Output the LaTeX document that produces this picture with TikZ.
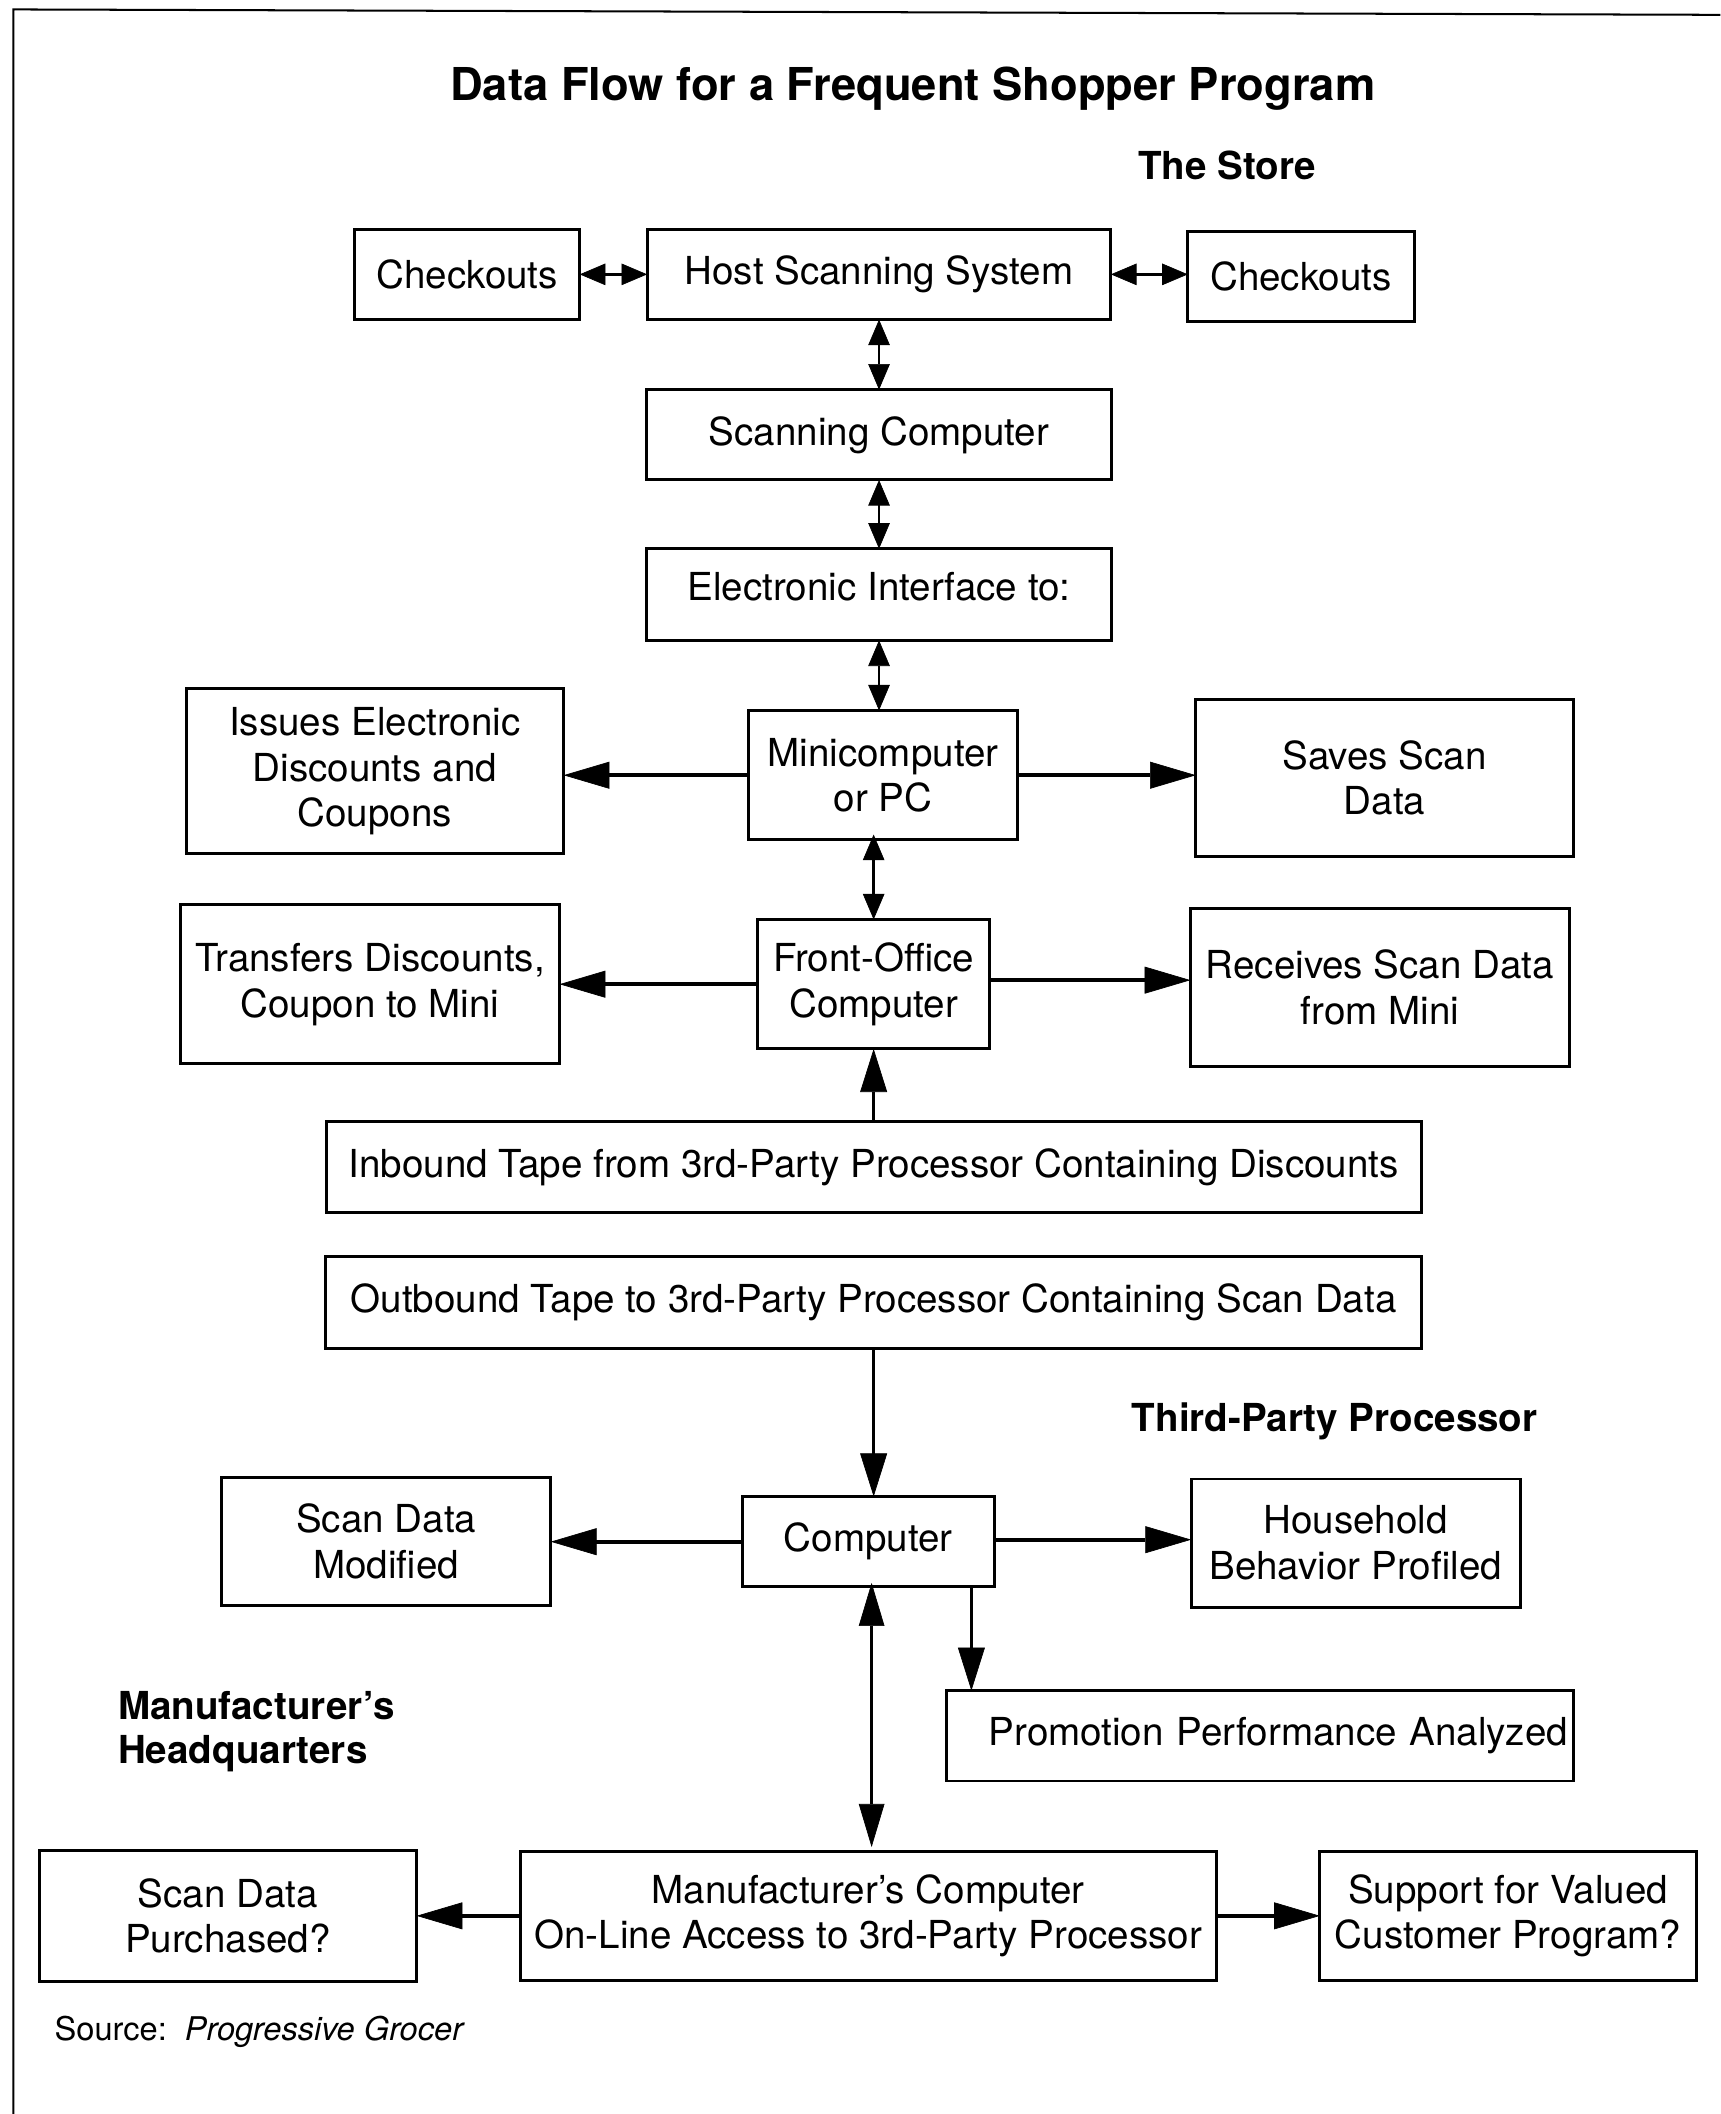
\documentclass[tikz,border=0pt]{standalone}
\usepackage{fontspec}
\setmainfont{TeX Gyre Heros}
\usepackage{tikz}
\usetikzlibrary{arrows.meta,positioning}
\newcommand{\boxfont}{\fontsize{28.6}{34}\selectfont}
\newcommand{\headfont}{\fontsize{28.6}{33}\selectfont\bfseries}
\newcommand{\titlefont}{\fontsize{33.6}{40}\selectfont\bfseries}

\begin{document}
\begin{tikzpicture}[x=1pt,y=-1pt]
  \tikzstyle{blk}=[rectangle, draw=black, line width=2.2pt, inner sep=2pt, outer sep=0pt, align=center, font=\boxfont]
  \tikzstyle{heavy}=[-{Triangle[length=34pt,width=20pt,line width=0.5pt]}, line width=3pt]
  \tikzstyle{slim}=[-{Triangle[length=32pt,width=20pt,line width=0.5pt]}, line width=1.8pt]
  \tikzstyle{dbl}=[{Triangle[length=19pt,width=16pt,line width=0.5pt]}-{Triangle[length=19pt,width=16pt,line width=0.5pt]}, line width=2pt]
  \tikzstyle{dblslim}=[{Triangle[length=32pt,width=19pt,line width=0.5pt]}-{Triangle[length=32pt,width=19pt,line width=0.5pt]}, line width=1.8pt]
  \tikzstyle{head}=[font=\headfont]
  \useasboundingbox (0,0) rectangle (1276,1568);
  \draw[line width=1.5pt] (10,1568) -- (10,7) -- (1276,11);
  % headings
  \node[font=\titlefont] (title) at (677,66) {Data Flow for a Frequent Shopper Program};
  \node[head] (store) at (910,123) {The Store};
  \node[head] (third) at (990,1054) {Third-Party Processor};
  \node[head, anchor=west, align=left] (hq) at (84,1284.5) {Manufacturer’s\\Headquarters};
  \node[font=\fontsize{24.2}{28}\selectfont, anchor=west] (src) at (37,1507) {Source:\hspace{0.55em}\textit{Progressive Grocer}};
  % the store
    \node[blk, minimum width=344, minimum height=67] (host) at (652,203.5) {Host Scanning System};
    \node[blk, minimum width=167, minimum height=67] (chkL) [left=50pt of host] {Checkouts};
    \node[blk, minimum width=168, minimum height=67, yshift=-1.5pt] (chkR) [right=57pt of host] {Checkouts};
    \node[blk, minimum width=345, minimum height=67] (scan) [below=52pt of host] {Scanning Computer};
    \node[blk, minimum width=345, minimum height=68, text depth=12pt] (iface) [below=51pt of scan] {Electronic Interface to:};
    \node[blk, minimum width=200, minimum height=96, xshift=3pt] (mini) [below=52pt of iface] {Minicomputer\\or PC};
    \node[blk, minimum width=280, minimum height=122, yshift=3pt] (issues) [left=137pt of mini] {Issues Electronic\\Discounts and\\Coupons};
    \node[blk, minimum width=280, minimum height=117, yshift=-2pt] (saves) [right=132pt of mini] {Saves Scan\\Data};
    \node[blk, minimum width=172, minimum height=96, xshift=-7pt] (front) [below=59pt of mini] {Front-Office\\Computer};
    \node[blk, minimum width=281, minimum height=118] (transfers) [left=147pt of front] {Transfers Discounts,\\Coupon to Mini};
    \node[blk, minimum width=281, minimum height=117, yshift=-2.5pt] (receives) [right=149pt of front] {Receives Scan Data\\from Mini};
    \node[blk, minimum width=812, minimum height=67] (inbound) [below=54pt of front] {Inbound Tape from 3rd-Party Processor Containing Discounts};
    \node[blk, minimum width=813, minimum height=68] (outbound) [below=33pt of inbound] {Outbound Tape to 3rd-Party Processor Containing Scan Data};
  % third-party processor
    \node[blk, minimum width=187, minimum height=67, xshift=-4pt] (comp) [below=110pt of outbound] {Computer};
    \node[blk, minimum width=244, minimum height=95] (modified) [left=142pt of comp] {Scan Data\\Modified};
    \node[blk, minimum width=244, minimum height=95, yshift=-1pt] (household) [right=146pt of comp] {Household\\Behavior Profiled};
    \node[blk, minimum width=465, minimum height=67, text width=457pt, inner xsep=4pt, align=right] (promo) at (934.5,1287.5) {Promotion Performance Analyzed};
  % manufacturer
    \node[blk, minimum width=516, minimum height=96, inner xsep=1pt] (mfr) [below=196pt of comp] {Manufacturer’s Computer\\On-Line Access to 3rd-Party Processor};
    \node[blk, minimum width=280, minimum height=97] (purchased) [left=77pt of mfr] {Scan Data\\Purchased?};
    \node[blk, minimum width=279, minimum height=96, inner xsep=1pt] (support) [right=77pt of mfr] {Support for Valued\\Customer Program?};
    \path (chkL.east) edge [dbl] (chkL.east -| host.west)
          (host.east) edge [dbl] (host.east -| chkR.west)
          (host.south) edge [dbl] (host.south |- scan.north)
          (scan.south) edge [dbl] (scan.south |- iface.north)
          (iface.south) edge [dbl] (iface.south |- mini.north)
          ([yshift=4pt]mini.south -| front.north) edge [dbl] (front.north)
          (mini.west) edge [heavy] (mini.west -| issues.east)
          (mini.east) edge [heavy] (mini.east -| saves.west)
          (front.west) edge [heavy] (front.west -| transfers.east)
          ([yshift=3pt]front.east) edge [heavy] ([yshift=3pt]front.east -| receives.west)
          (inbound.north) edge [slim] (inbound.north |- front.south)
          (outbound.south) edge [slim] (outbound.south |- comp.north)
          (comp.west) edge [heavy] (comp.west -| modified.east)
          ([yshift=1.5pt]comp.east) edge [heavy] ([yshift=1.5pt]comp.east -| household.west)
          ([xshift=2.5pt,yshift=3pt]comp.south) edge [dblslim] ([xshift=2.5pt,yshift=3pt]comp.south |- mfr.north)
          ([xshift=-17pt]comp.south east) edge [slim] ([xshift=-17pt]comp.south east |- promo.north)
          (mfr.west) edge [heavy] (mfr.west -| purchased.east)
          (mfr.east) edge [heavy] (mfr.east -| support.west);
    %\draw[->] (comp.east) to [out=-40,in=90] (promo.north);
  \end{tikzpicture}
\end{document}
